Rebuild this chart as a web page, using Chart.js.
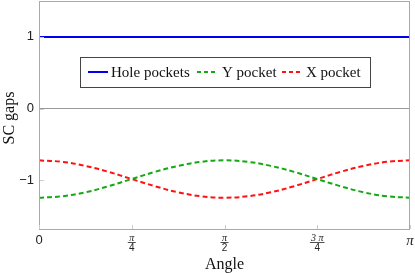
<!DOCTYPE html>
<html><head><meta charset="utf-8">
<script src="https://cdn.jsdelivr.net/npm/chart.js@4/dist/chart.umd.min.js"></script>
<style>html,body{margin:0;padding:0;background:#fff}canvas{display:block}</style>
</head><body>
<canvas id="c" width="415" height="273"></canvas>
<script>
const angles = [0, 0.196, 0.393, 0.589, 0.785, 0.982, 1.178, 1.374, 1.571, 1.767, 1.963, 2.160, 2.356, 2.553, 2.749, 2.945, 3.1416];
const holePockets = [1, 1, 1, 1, 1, 1, 1, 1, 1, 1, 1, 1, 1, 1, 1, 1, 1];
const yPocket = [-1.24, -1.22, -1.165, -1.08, -0.98, -0.88, -0.797, -0.74, -0.72, -0.74, -0.797, -0.88, -0.98, -1.08, -1.165, -1.22, -1.24];
const xPocket = [-0.72, -0.74, -0.797, -0.88, -0.98, -1.08, -1.165, -1.22, -1.24, -1.22, -1.165, -1.08, -0.98, -0.88, -0.797, -0.74, -0.72];
const seriesNames = ["Hole pockets", "Y pocket", "X pocket"];
const xTickValues = [0, Math.PI / 4, Math.PI / 2, 3 * Math.PI / 4, Math.PI];
const xTickLabels = ["0", "π/4", "π/2", "3 π/4", "π"];
const yTickValues = [-1, 0, 1];
const yTickLabels = ["−1", "0", "1"];
const xTitle = "Angle";
const yTitle = "SC gaps";

const colors = ["#0000ee", "#11aa11", "#ff1111"];
const pts = ys => angles.map((a, i) => ({x: a, y: ys[i]}));

const overlay = {
  id: 'overlay',
  afterDraw(chart) {
    const ctx = chart.ctx, a = chart.chartArea;
    const xs = chart.scales.x, ys = chart.scales.y;
    ctx.save();
    // frame
    ctx.strokeStyle = '#aaaaaa'; ctx.lineWidth = 1;
    ctx.strokeRect(Math.round(a.left) + 0.5, Math.round(a.top) + 0.5, Math.round(a.right - a.left) - 1, Math.round(a.bottom - a.top) - 1);
    // inside ticks
    ctx.strokeStyle = '#cccccc';
    xTickValues.forEach(v => {
      const px = Math.round(xs.getPixelForValue(v)) + 0.5;
      ctx.beginPath(); ctx.moveTo(px, a.bottom - 1); ctx.lineTo(px, a.bottom - 5); ctx.stroke();
    });
    yTickValues.forEach(v => {
      const py = Math.round(ys.getPixelForValue(v)) + 0.5;
      ctx.beginPath(); ctx.moveTo(a.left + 1, py); ctx.lineTo(a.left + 5, py); ctx.stroke();
    });
    // x tick labels
    ctx.fillStyle = '#222';
    ctx.textAlign = 'center'; ctx.textBaseline = 'middle';
    xTickValues.forEach((v, i) => {
      const px = xs.getPixelForValue(v);
      const lab = xTickLabels[i];
      if (lab.includes('/')) {
        const [num, den] = lab.split('/');
        ctx.font = 'italic 10px "Liberation Serif"';
        ctx.fillText(num, px, a.bottom + 8);
        ctx.font = '10px "Liberation Sans"';
        ctx.fillText(den, px, a.bottom + 18);
        ctx.font = 'italic 10px "Liberation Serif"';
        const w = Math.max(ctx.measureText(num).width, 6) + 2;
        ctx.strokeStyle = '#222'; ctx.lineWidth = 0.8;
        ctx.beginPath(); ctx.moveTo(px - w / 2, a.bottom + 12.5); ctx.lineTo(px + w / 2, a.bottom + 12.5); ctx.stroke();
      } else if (lab === 'π') {
        ctx.font = 'italic 15px "Liberation Serif"';
        ctx.fillText(lab, px, a.bottom + 11);
      } else {
        ctx.font = '13px "Liberation Sans"';
        ctx.fillText(lab, px, a.bottom + 10);
      }
    });
    // titles
    ctx.fillStyle = '#111';
    ctx.font = '16px "Liberation Serif"';
    ctx.fillText(xTitle, (a.left + a.right) / 2, 265);
    ctx.save();
    ctx.translate(10, 118); ctx.rotate(-Math.PI / 2);
    ctx.fillText(yTitle, 0, 0);
    ctx.restore();
    // legend
    const bx = 80, by = 57, bw = 290, bh = 30, cy = by + bh / 2;
    ctx.fillStyle = '#fff'; ctx.fillRect(bx, by, bw, bh);
    ctx.strokeStyle = '#444'; ctx.lineWidth = 1;
    ctx.strokeRect(bx + 0.5, by + 0.5, bw, bh);
    const items = [[88, 108, 111], [197, 215, 222], [282, 300, 306]];
    items.forEach((it, i) => {
      ctx.strokeStyle = colors[i]; ctx.lineWidth = 2;
      ctx.setLineDash(i === 0 ? [] : [4, 3]);
      ctx.beginPath(); ctx.moveTo(it[0], cy); ctx.lineTo(it[1], cy); ctx.stroke();
      ctx.setLineDash([]);
      ctx.fillStyle = '#111'; ctx.font = '15px "Liberation Serif"';
      ctx.textAlign = 'left'; ctx.textBaseline = 'middle';
      ctx.fillText(seriesNames[i], it[2], cy + 1);
    });
    ctx.restore();
  }
};

new Chart(document.getElementById('c'), {
  type: 'line',
  data: {
    datasets: [
      {label: seriesNames[0], data: pts(holePockets), borderColor: colors[0], borderWidth: 2, pointRadius: 0, tension: 0},
      {label: seriesNames[1], data: pts(yPocket), borderColor: colors[1], borderWidth: 2, borderDash: [5, 3], pointRadius: 0, tension: 0.4},
      {label: seriesNames[2], data: pts(xPocket), borderColor: colors[2], borderWidth: 2, borderDash: [5, 3], pointRadius: 0, tension: 0.4}
    ]
  },
  options: {
    responsive: false, animation: false, devicePixelRatio: 1,
    layout: {padding: {left: 0, top: 1, right: 5, bottom: 43}},
    plugins: {legend: {display: false}, tooltip: {enabled: false}},
    scales: {
      x: {type: 'linear', min: 0, max: Math.PI, display: false},
      y: {
        min: -1.69, max: 1.5,
        afterBuildTicks: s => { s.ticks = yTickValues.map(v => ({value: v})); },
        afterFit: s => { s.width = 39; s.paddingTop = 0; s.paddingBottom = 0; },
        border: {display: false},
        grid: {drawTicks: false, color: c => (c.tick && c.tick.value === 0) ? '#999999' : 'rgba(0,0,0,0)'},
        ticks: {
          padding: 5, color: '#222', font: {family: '"Liberation Sans"', size: 13},
          callback: v => { const i = yTickValues.indexOf(v); return i >= 0 ? yTickLabels[i] : ''; }
        }
      }
    }
  },
  plugins: [overlay]
});
</script>
</body></html>
